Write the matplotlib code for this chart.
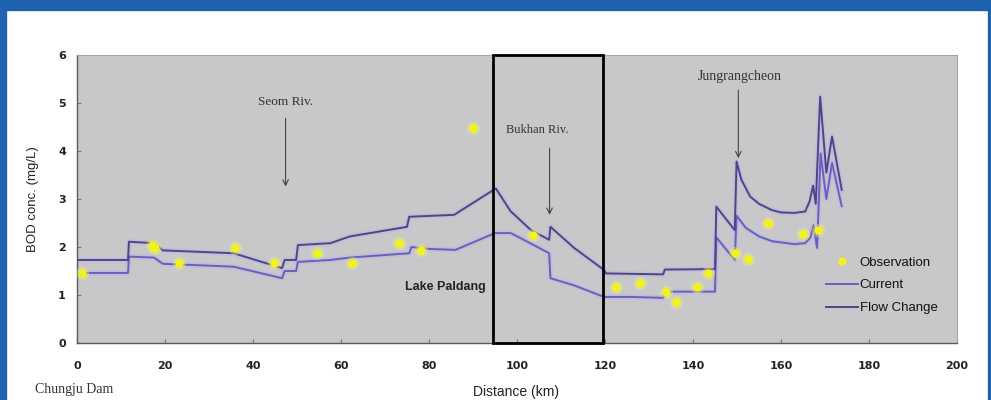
import matplotlib
matplotlib.use("Agg")
import matplotlib.pyplot as plt
from matplotlib.patches import Rectangle

# Distance along the river (km) and simulated BOD (mg/L)
current_km = [0, 11.6, 11.8, 17.5, 19.5, 35.6, 46.6, 47.2, 49.8, 50.2, 57.6, 62.0,
              75.5, 76.0, 80.0, 86.0, 95.0, 98.6, 103.0, 107.3, 107.6, 113.0, 119.8,
              126.0, 133.2, 133.8, 145.0, 145.3, 149.5, 149.9, 152.0, 155.0, 158.0,
              163.0, 165.5, 166.7, 167.4, 168.2, 169.0, 170.3, 171.6, 173.8]
current_bod = [1.46, 1.46, 1.80, 1.78, 1.65, 1.59, 1.35, 1.50, 1.50, 1.69, 1.73, 1.78,
               1.87, 2.00, 1.96, 1.94, 2.29, 2.29, 2.08, 1.87, 1.35, 1.20, 0.96,
               0.96, 0.94, 1.07, 1.07, 2.20, 1.73, 2.65, 2.40, 2.22, 2.12,
               2.06, 2.08, 2.20, 2.45, 1.98, 3.95, 3.00, 3.75, 2.85]

flow_km = [0, 11.6, 11.8, 17.5, 19.5, 35.6, 46.6, 47.2, 49.8, 50.2, 57.6, 62.0,
           75.0, 75.5, 85.7, 95.2, 98.5, 103.2, 107.3, 107.6, 113.0, 119.8, 120.2,
           133.2, 133.6, 145.0, 145.3, 149.5, 149.9, 151.0, 153.0, 155.0, 157.9,
           160.0, 163.0, 165.5, 166.5, 167.3, 167.9, 168.9, 170.3, 171.6, 173.8]
flow_bod = [1.73, 1.73, 2.11, 2.08, 1.93, 1.87, 1.56, 1.73, 1.73, 2.04, 2.08, 2.22,
            2.42, 2.63, 2.67, 3.22, 2.75, 2.35, 2.15, 2.42, 1.98, 1.52, 1.45,
            1.43, 1.53, 1.54, 2.84, 2.35, 3.78, 3.40, 3.05, 2.90, 2.77,
            2.72, 2.71, 2.74, 2.95, 3.28, 2.90, 5.13, 3.55, 4.30, 3.19]

# Measured BOD at monitoring stations
obs_km = [1.1, 17.0, 17.8, 23.1, 36.0, 44.7, 54.6, 62.6, 73.2, 78.1, 89.9, 103.6,
          122.5, 127.9, 133.9, 136.2, 140.8, 143.4, 149.5, 152.4, 157.1, 165.1, 168.3]
obs_bod = [1.46, 2.04, 1.98, 1.67, 1.97, 1.67, 1.87, 1.66, 2.08, 1.94, 4.47, 2.25,
           1.17, 1.24, 1.07, 0.86, 1.17, 1.45, 1.87, 1.76, 2.49, 2.28, 2.35]

x_ticks = [0, 20, 40, 60, 80, 100, 120, 140, 160, 180, 200]
y_ticks = [0, 1, 2, 3, 4, 5, 6]

fig = plt.figure(figsize=(9.91, 4.0), dpi=100)
fig.patch.set_facecolor("white")

# slide frame
blue = "#1f62b0"
fig.patches.append(Rectangle((0, 0.975), 1, 0.025, transform=fig.transFigure,
                             color=blue, zorder=0))
fig.patches.append(Rectangle((0, 0), 0.006, 1, transform=fig.transFigure,
                             color=blue, zorder=0))
fig.patches.append(Rectangle((0.997, 0), 0.003, 1, transform=fig.transFigure,
                             color=blue, zorder=0))

ax = fig.add_axes([77 / 991, 1 - 343 / 400, 880 / 991, 288 / 400])
ax.set_facecolor("#c8c8ca")
ax.set_xlim(0, 200)
ax.set_ylim(0, 6)
ax.set_xticks(x_ticks)
ax.set_yticks(y_ticks)
ax.tick_params(axis="both", direction="in", length=3, color="#777777",
               labelsize=8, pad=8)
for lab in ax.get_xticklabels() + ax.get_yticklabels():
    lab.set_fontweight("bold")
    lab.set_color("#222222")
ax.tick_params(axis="x", pad=13)
for s in ("left", "bottom"):
    ax.spines[s].set_color("#5a5a5a")
    ax.spines[s].set_linewidth(1.0)
for s in ("top", "right"):
    ax.spines[s].set_color("#a5a5a5")
    ax.spines[s].set_linewidth(0.8)

c_cur = "#6a5fc1"
c_flow = "#4f4488"
halo = "#b4aee6"

ax.plot(current_km, current_bod, color=halo, lw=4, alpha=0.35, zorder=2)
ax.plot(flow_km, flow_bod, color=halo, lw=4, alpha=0.35, zorder=2)
ax.plot(current_km, current_bod, color=c_cur, lw=1.4, zorder=3, label="Current")
ax.plot(flow_km, flow_bod, color=c_flow, lw=1.4, zorder=3, label="Flow Change")

ax.plot(obs_km, obs_bod, ls="none", marker="o", ms=9.5, color="#f4f46a",
        alpha=0.35, mec="none", zorder=4)
ax.plot(obs_km, obs_bod, ls="none", marker="o", ms=6, color="#f2f21c",
        mec="none", zorder=5, label="Observation")

# Lake Paldang reach
ax.add_patch(Rectangle((94.6, 0), 25.0, 6, fill=False, ec="black", lw=2, zorder=6,
                       clip_on=False))

arrow = dict(arrowstyle="->", color="#444444", lw=0.8, shrinkA=0, shrinkB=0)
serif = "Liberation Serif"
ax.annotate("", xy=(47.4, 3.26), xytext=(47.4, 4.68), arrowprops=arrow)
ax.text(47.4, 5.03, "Seom Riv.", ha="center", va="center", fontsize=9.5,
        family=serif, color="#333333")
ax.annotate("", xy=(107.4, 2.67), xytext=(107.4, 4.06), arrowprops=arrow)
ax.text(104.7, 4.44, "Bukhan Riv.", ha="center", va="center", fontsize=9,
        family=serif, color="#333333")
ax.annotate("", xy=(150.3, 3.85), xytext=(150.3, 5.27), arrowprops=arrow)
ax.text(150.6, 5.56, "Jungrangcheon", ha="center", va="center", fontsize=10,
        family=serif, color="#333333")
ax.text(83.8, 1.17, "Lake Paldang", ha="center", va="center", fontsize=9,
        fontweight="bold", family="Liberation Sans", color="#222222")

ax.set_ylabel("BOD conc. (mg/L)", fontsize=9.5, family="Liberation Sans",
              color="#222222")
ax.yaxis.set_label_coords(-0.043, 0.5)
fig.text(516 / 991, 1 - 392 / 400, "Distance (km)", ha="center", va="center",
         fontsize=10, family="Liberation Sans", color="#222222")
fig.text(35 / 991, 1 - 390 / 400, "Chungju Dam", ha="left", va="center",
         fontsize=10, family=serif, color="#333333")

handles, labels = ax.get_legend_handles_labels()
order = [labels.index("Observation"), labels.index("Current"),
         labels.index("Flow Change")]
leg = ax.legend([handles[i] for i in order], [labels[i] for i in order],
                loc="upper left", bbox_to_anchor=(0.851, 0.301), frameon=False,
                borderpad=0, borderaxespad=0, handlelength=2.4,
                handletextpad=0.15, labelspacing=0.8,
                prop={"family": "Liberation Sans", "size": 9.5})
for t in leg.get_texts():
    t.set_color("#111111")

fig.savefig("out.png", dpi=100)
